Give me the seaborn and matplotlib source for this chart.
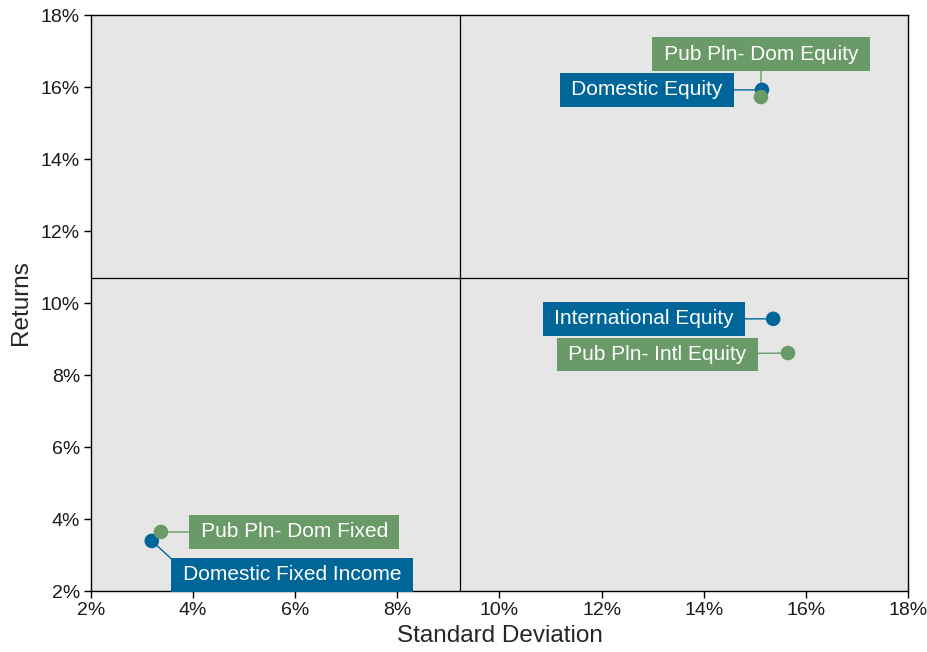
import matplotlib
matplotlib.use("Agg")
import matplotlib.pyplot as plt
import pandas as pd
import seaborn as sns
from matplotlib.ticker import FuncFormatter

# Risk / return figures (percent)
names = ["Domestic Equity", "Pub Pln- Dom Equity",
         "International Equity", "Pub Pln- Intl Equity",
         "Domestic Fixed Income", "Pub Pln- Dom Fixed"]
std_dev = [15.14, 15.12, 15.36, 15.65, 3.19, 3.37]
returns = [15.92, 15.72, 9.56, 8.61, 3.39, 3.64]
group = ["Fund", "Universe", "Fund", "Universe", "Fund", "Universe"]

# Quadrant dividers
std_mid = 9.23
ret_mid = 10.69

# Label offsets (points) from each marker, and where the leader meets the box
label_dx = [-83, 0, -93, -94, 101, 96]
label_dy = [0, 31, 0, -1, -24.5, 0]
leader_rel = [(0.5, 0.5), (0.5, 0.5), (0.5, 0.5), (0.5, 0.5), (0.0, 1.0), (0.5, 0.5)]

axis_ticks = [2, 4, 6, 8, 10, 12, 14, 16, 18]

palette = {"Fund": "#00669A", "Universe": "#6A9A68"}

df = pd.DataFrame({"name": names, "std": std_dev, "ret": returns, "group": group})

sns.set_style("white")
plt.rcParams["font.family"] = ["Liberation Sans", "DejaVu Sans"]

fig = plt.figure(figsize=(9.28, 6.52), dpi=100)
ax = fig.add_axes([91 / 928, 61 / 652, 817 / 928, 576 / 652])
ax.set_facecolor("#E6E6E6")

ax.axvline(std_mid, color="black", lw=0.9, zorder=1)
ax.axhline(ret_mid, color="black", lw=0.9, zorder=1)

sns.scatterplot(data=df, x="std", y="ret", hue="group", palette=palette,
                s=110, edgecolor="none", legend=False, ax=ax, zorder=4)

for n, x, y, g, dx, dy, rp in zip(names, std_dev, returns, group,
                                  label_dx, label_dy, leader_rel):
    c = palette[g]
    ax.annotate("\u2009" + n + "\u2009", xy=(x, y), xytext=(dx, dy),
                textcoords="offset points",
                ha="center", va="center", color="white", fontsize=15,
                bbox=dict(boxstyle="square,pad=0.35", fc=c, ec="none"),
                arrowprops=dict(arrowstyle="-", color=c, lw=1, shrinkA=0, shrinkB=0,
                                relpos=rp),
                zorder=3)

ax.set_xlim(2, 18)
ax.set_ylim(2, 18)
ax.set_xticks(axis_ticks)
ax.set_yticks(axis_ticks)
pct = FuncFormatter(lambda v, p: f"{v:.0f}%")
ax.xaxis.set_major_formatter(pct)
ax.yaxis.set_major_formatter(pct)
ax.tick_params(axis="both", direction="out", length=5, width=1, color="black",
               labelsize=14, labelcolor="#1a1a1a", bottom=True, left=True, pad=3)
for s in ax.spines.values():
    s.set_color("black")
    s.set_linewidth(1)
ax.set_xlabel("Standard Deviation", fontsize=17.5, labelpad=4)
ax.set_ylabel("Returns", fontsize=17.5, labelpad=6)

fig.savefig("out.png", dpi=100)
